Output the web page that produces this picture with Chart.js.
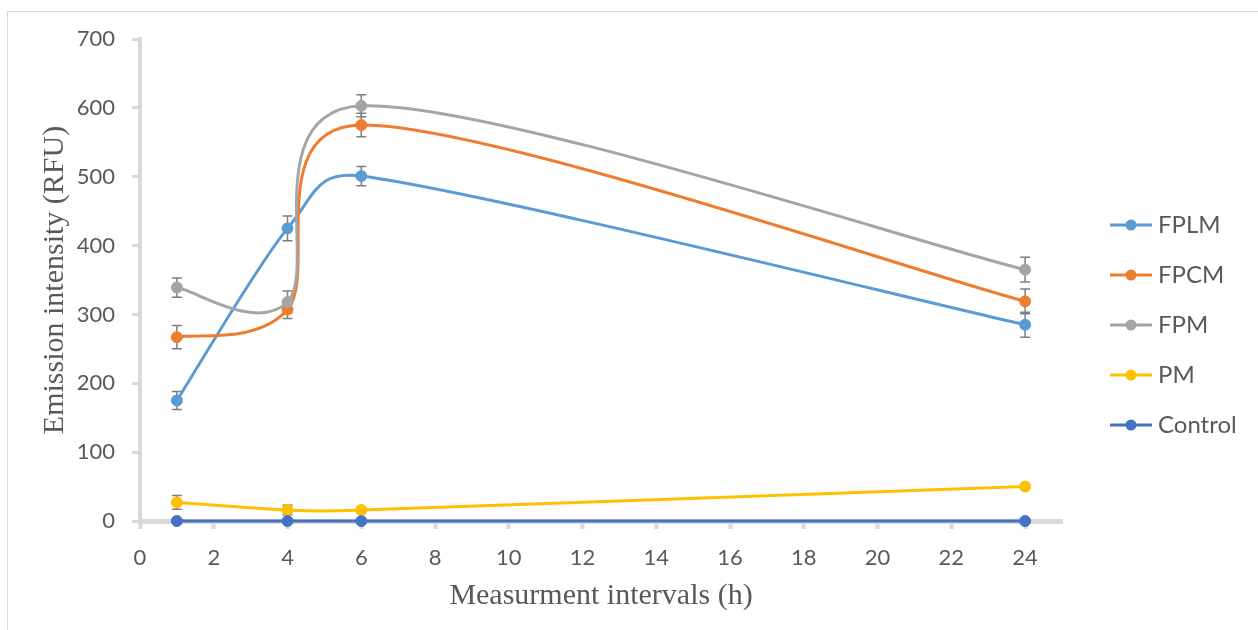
<!DOCTYPE html>
<html>
<head>
<meta charset="utf-8">
<script src="https://cdn.jsdelivr.net/npm/chart.js@4.4.1/dist/chart.umd.min.js"></script>
<style>
  html, body { margin: 0; padding: 0; background: #ffffff; overflow: hidden; }
  #frame { position: absolute; left: 7px; top: 11px; width: 1300px; height: 700px;
           border-left: 1px solid #d9d9d9; border-top: 1px solid #d9d9d9; }
  #c { position: absolute; left: 0; top: 0; }
</style>
</head>
<body>
<div id="frame"></div>
<canvas id="c" width="1258" height="630"></canvas>
<script>
// ---- data ----
const hours = [1, 4, 6, 24];
const seriesNames = ['FPLM', 'FPCM', 'FPM', 'PM', 'Control'];
const seriesColors = ['#5B9BD5', '#ED7D31', '#A5A5A5', '#FFC000', '#4472C4'];
const fplm = [175, 425, 501, 285];
const fpcm = [267, 307, 575, 319];
const fpm = [339, 318, 603, 365];
const pm = [27, 16, 16, 50];
const control = [0, 0, 0, 0];
const fplmErr = [13, 18, 14, 18];
const fpcmErr = [17, 13, 17, 18];
const fpmErr = [14, 16, 16, 18];
const pmErr = [10, 7, 4, 0];
const controlErr = [0, 0, 0, 0];
const yTicks = [0, 100, 200, 300, 400, 500, 600, 700];
const xTicks = [0, 2, 4, 6, 8, 10, 12, 14, 16, 18, 20, 22, 24];

const seriesValues = [fplm, fpcm, fpm, pm, control];
const seriesErrors = [fplmErr, fpcmErr, fpmErr, pmErr, controlErr];

const TEXT = '#595959';
const AXIS = '#d9d9d9';
const legendFont = 24;
const legendPad = 26;
const legendBox = 58;

// legend marker images (line with a dot)
function legendMarker(color) {
  const cv = document.createElement('canvas');
  cv.width = 70; cv.height = 12;
  const g = cv.getContext('2d');
  g.strokeStyle = color; g.lineWidth = 3;
  g.beginPath(); g.moveTo(28, 6); g.lineTo(70, 6); g.stroke();
  g.fillStyle = color;
  g.beginPath(); g.arc(49, 6, 5.5, 0, Math.PI * 2); g.fill();
  return cv;
}

// measure widest legend text so the plot area's right edge lands where the reference has it
const mctx = document.createElement('canvas').getContext('2d');
mctx.font = legendFont + 'px Lato';
const maxText = Math.max(...seriesNames.map(n => mctx.measureText(n).width));
const legendWidth = legendPad + legendBox + legendFont / 2 + maxText + 10;
const plotRight = 1062;
const padRight = Math.max(0, 1258 - plotRight - legendWidth);

// Excel-like smoothing: Catmull-Rom tangents (1/6), each control arm limited to half its segment
const excelSmooth = {
  id: 'excelSmooth',
  beforeDatasetDraw(chart, args) {
    const meta = args.meta;
    const line = meta.dataset;
    const pts = meta.data;
    if (!line || !pts || pts.length < 2) return;
    const n = pts.length;
    const dist = (a, b) => Math.hypot(b.x - a.x, b.y - a.y);
    for (let i = 0; i < n; i++) {
      const p = pts[i];
      const prev = pts[Math.max(i - 1, 0)];
      const next = pts[Math.min(i + 1, n - 1)];
      const tx = (next.x - prev.x) / 6;
      const ty = (next.y - prev.y) / 6;
      const tl = Math.hypot(tx, ty) || 1;
      const back = Math.min(tl, dist(prev, p) / 2) / tl;
      const fwd = Math.min(tl, dist(p, next) / 2) / tl;
      p.cp1x = p.x - tx * back; p.cp1y = p.y - ty * back;
      p.cp2x = p.x + tx * fwd; p.cp2y = p.y + ty * fwd;
    }
    line._pointsUpdated = true;
    line._path = undefined;
  }
};

// error bars via the chart's scales
const errorBars = {
  id: 'errorBars',
  beforeDatasetsDraw(chart) {
    const ctx = chart.ctx;
    const xs = chart.scales.x, ys = chart.scales.y;
    ctx.save();
    ctx.strokeStyle = '#7f7f7f';
    ctx.lineWidth = 1.5;
    chart.data.datasets.forEach((ds, di) => {
      const errs = seriesErrors[di];
      ds.data.forEach((pt, i) => {
        const e = errs[i];
        if (!e) return;
        const x = xs.getPixelForValue(pt.x);
        const y1 = ys.getPixelForValue(pt.y + e);
        const y2 = ys.getPixelForValue(pt.y - e);
        ctx.beginPath();
        ctx.moveTo(x, y1); ctx.lineTo(x, y2);
        ctx.moveTo(x - 5, y1); ctx.lineTo(x + 5, y1);
        ctx.moveTo(x - 5, y2); ctx.lineTo(x + 5, y2);
        ctx.stroke();
      });
    });
    ctx.restore();
  }
};

const datasets = seriesNames.map((name, si) => ({
  label: name,
  data: hours.map((h, i) => ({ x: h, y: seriesValues[si][i] })),
  borderColor: seriesColors[si],
  backgroundColor: seriesColors[si],
  pointBackgroundColor: seriesColors[si],
  pointBorderColor: seriesColors[si],
  pointRadius: 5.5,
  pointBorderWidth: 1,
  borderWidth: 3,
  tension: 0.4,
  fill: false,
  clip: false,
  order: seriesNames.length - 1 - si
}));

new Chart(document.getElementById('c'), {
  type: 'line',
  data: { datasets },
  plugins: [excelSmooth, errorBars],
  options: {
    responsive: false,
    animation: false,
    events: [],
    layout: { padding: { left: 10, top: 39, bottom: 19, right: padRight } },
    plugins: {
      tooltip: { enabled: false },
      legend: {
        position: 'right',
        align: 'center',
        labels: {
          usePointStyle: true,
          pointStyleWidth: legendBox,
          padding: legendPad,
          color: TEXT,
          font: { family: 'Lato', size: legendFont },
          generateLabels(chart) {
            return chart.data.datasets.map((ds, i) => ({
              text: ds.label,
              fillStyle: seriesColors[i],
              strokeStyle: seriesColors[i],
              lineWidth: 0,
              pointStyle: legendMarker(seriesColors[i]),
              fontColor: TEXT,
              hidden: false,
              datasetIndex: i
            }));
          }
        }
      }
    },
    scales: {
      x: {
        type: 'linear',
        min: 0,
        max: 25,
        afterFit(scale) { scale.height = 90; },
        afterBuildTicks(scale) { scale.ticks = xTicks.map(v => ({ value: v })); },
        ticks: { includeBounds: false, color: TEXT, padding: 16, font: { family: 'Lato', size: 22 }, maxRotation: 0 },
        grid: { display: true, drawOnChartArea: false, drawTicks: true, tickLength: 8, tickWidth: 4, tickColor: AXIS, color: AXIS },
        border: { display: true, color: AXIS, width: 5 },
        title: {
          display: true,
          text: 'Measurment intervals (h)',
          color: TEXT,
          font: { family: 'Liberation Serif', size: 30, lineHeight: 1.0 },
          padding: { top: 0, bottom: 0 }
        }
      },
      y: {
        min: 0,
        max: 700,
        afterFit(scale) { scale.width = 130; },
        afterBuildTicks(scale) { scale.ticks = yTicks.map(v => ({ value: v })); },
        ticks: { color: TEXT, padding: 17, font: { family: 'Lato', size: 22 } },
        grid: { display: true, drawOnChartArea: false, drawTicks: true, tickLength: 8, tickWidth: 3, tickColor: AXIS, color: AXIS },
        border: { display: true, color: AXIS, width: 4 },
        title: {
          display: true,
          text: 'Emission intensity (RFU)',
          color: TEXT,
          font: { family: 'Liberation Serif', size: 30 },
          padding: { top: 27, bottom: 0 }
        }
      }
    }
  }
});
</script>
</body>
</html>
